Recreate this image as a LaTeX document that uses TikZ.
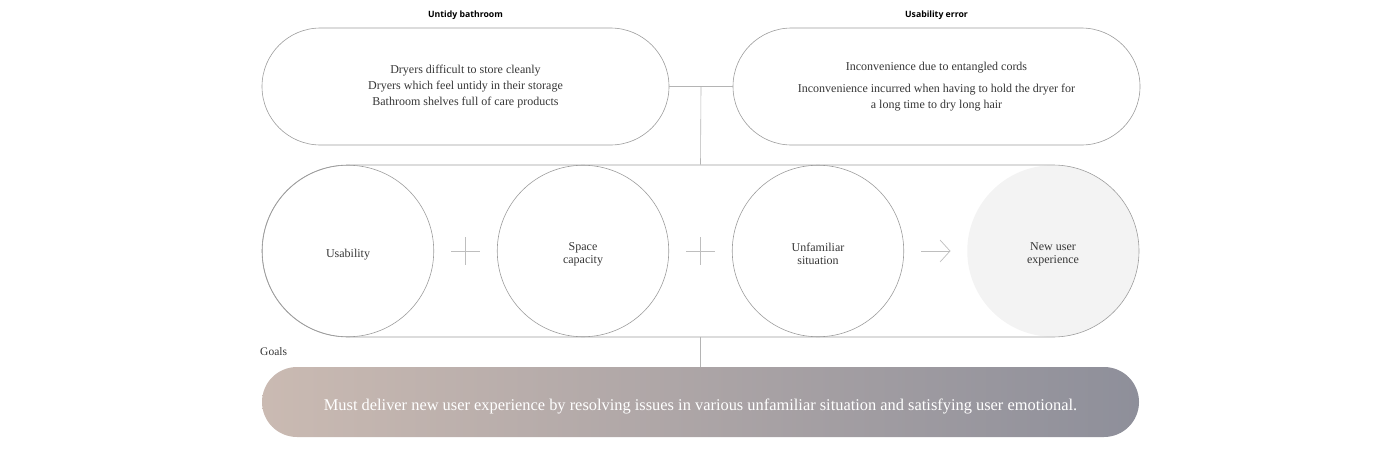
\documentclass[tikz,border=0pt]{standalone}
\usepackage{fontspec}
\setmainfont{Liberation Serif}
\newfontfamily\titlefont{Open Sans}
\usetikzlibrary{arrows.meta,calc,positioning}
\definecolor{LineClr}{HTML}{9C9C9C}
\definecolor{LinkClr}{HTML}{B4B4B4}
\definecolor{SignClr}{HTML}{BEBEBE}
\definecolor{TextClr}{HTML}{363636}
\definecolor{NewClr}{HTML}{F3F3F3}
\definecolor{GoalLeft}{HTML}{CABAB2}
\definecolor{GoalRight}{HTML}{8E8F9A}

\begin{document}
\begin{tikzpicture}[x=1pt,y=-1pt,
  pill/.style={draw=LineClr,line width=.6pt,rectangle,rounded corners=#1,inner sep=0pt,
    align=center,text=TextClr,font=\fontsize{12}{16}\selectfont},
  goalc/.style={draw=LineClr,line width=.6pt,circle,minimum size=171.5pt,inner sep=0pt,
    align=center,text=TextClr,text height=#1,font=\fontsize{12}{12.5}\selectfont},
  goalc/.default=15.5pt,
  ttl/.style={font=\titlefont\bfseries\fontsize{8.7}{10}\selectfont,text=black,inner sep=0pt},
  link/.style={draw=LinkClr,line width=.6pt},
  sign/.style={draw=SignClr,line width=.7pt}]
\useasboundingbox (0,0) rectangle (1400,450);

\node[pill=58.5pt,minimum width=407pt,minimum height=117pt] (bath) at (465.5,86.5)
  {Dryers difficult to store cleanly\\Dryers which feel untidy in their storage\\Bathroom shelves full of care products};
\node[pill=58.5pt,minimum width=407pt,minimum height=117pt] (err) at (936.5,86.5)
  {Inconvenience due to entangled cords\\[6pt]Inconvenience incurred when having to hold the dryer for\\a long time to dry long hair};

\node[ttl,above=8pt of bath] (bathttl) {Untidy bathroom};
\node[ttl,above=8pt of err] (errttl) {Usability error};

\node[goalc] (use) at (348,251) {Usability};
\node[goalc=27pt] (spc) at (583,251) {Space\\capacity};
\node[goalc=27pt] (unf) at (818,251) {Unfamiliar\\situation};
\node[goalc=27pt,draw=none,fill=NewClr] (new) at (1053,251) {New user\\experience};

\node[pill=86pt,minimum width=877pt,minimum height=172pt] (row) at (700.5,251) {};

\node[pill=35pt,draw=none,left color=GoalLeft,right color=GoalRight,text=white,text height=21pt,
  minimum width=877pt,minimum height=70pt,font=\fontsize{16.4}{18}\selectfont] (goal) at (700.5,402)
  {Must deliver new user experience by resolving issues in various unfamiliar situation and satisfying user emotional.};

\node[anchor=west,inner sep=0pt,text=TextClr,font=\fontsize{11.5}{12}\selectfont] (goalslbl) at (260,352) {Goals};

\coordinate (j) at ($(bath.east)!0.5!(err.west)$);
\draw[link] (bath.east) -- (err.west);
\draw[link] (j) -- (row.north);
\draw[link] (row.south) -- (goal.north);

\coordinate (p1) at ($(use)!0.5!(spc)$);
\coordinate (p2) at ($(spc)!0.5!(unf)$);
\coordinate (p3) at ($(unf)!0.5!(new)$);
\draw[sign] (p1) +(-14.5,0) -- +(14.5,0) +(0,-14) -- +(0,14);
\draw[sign] (p2) +(-14.5,0) -- +(14.5,0) +(0,-14) -- +(0,14);
\draw[sign,-{Straight Barb[length=10pt,width=22pt]}] (p3) +(-14.5,0) -- +(15,0);

\end{tikzpicture}
\end{document}
